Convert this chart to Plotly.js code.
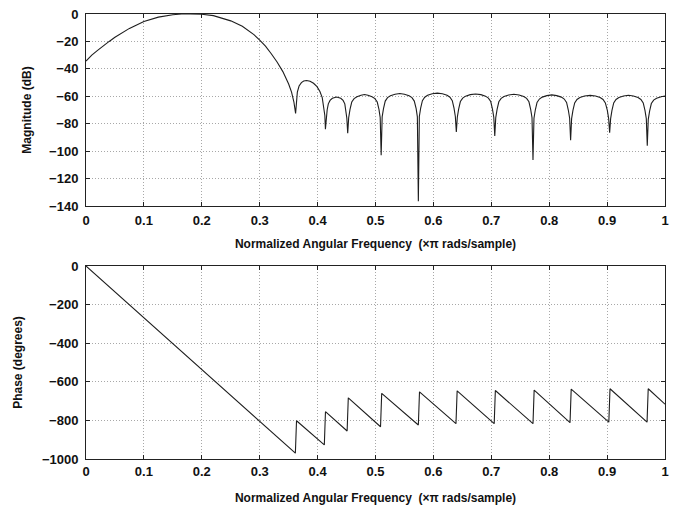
<!DOCTYPE html>
<html>
<head>
<meta charset="utf-8">
<script src="https://cdn.plot.ly/plotly-3.0.1.min.js"></script>
<style>html,body{margin:0;padding:0;background:#fff;}#chart{width:673px;height:518px;}</style>
</head>
<body>
<div id="chart"></div>
<script>
// Magnitude response (dB)
const magFreq = [0, 0.01, 0.02, 0.03, 0.04, 0.05, 0.075, 0.1, 0.125, 0.15, 0.165, 0.18, 0.2, 0.22, 0.25, 0.27, 0.29, 0.3, 0.31, 0.32, 0.33, 0.34, 0.35, 0.355, 0.359, 0.362,
  0.3635, 0.365, 0.368, 0.372, 0.376, 0.381, 0.387, 0.393, 0.399, 0.404, 0.408, 0.411, 0.4125, 0.4135,
  0.415, 0.4165, 0.4185, 0.4215, 0.4255, 0.4328, 0.44, 0.444, 0.447, 0.449, 0.4505, 0.452,
  0.4537, 0.456, 0.459, 0.463, 0.468, 0.475, 0.481, 0.487, 0.494, 0.499, 0.503, 0.506, 0.5081, 0.5098,
  0.5115, 0.5138, 0.5168, 0.5208, 0.5258, 0.5338, 0.542, 0.550, 0.558, 0.563, 0.567, 0.5702, 0.5723, 0.574,
  0.5757, 0.578, 0.581, 0.585, 0.590, 0.598, 0.6068, 0.6156, 0.6236, 0.6286, 0.6326, 0.6356, 0.6379, 0.6396,
  0.6413, 0.6436, 0.6466, 0.6506, 0.6556, 0.6636, 0.6728, 0.682, 0.690, 0.695, 0.699, 0.702, 0.7043, 0.706,
  0.7077, 0.71, 0.713, 0.717, 0.722, 0.730, 0.739, 0.748, 0.756, 0.761, 0.765, 0.768, 0.7703, 0.772,
  0.7737, 0.776, 0.779, 0.783, 0.788, 0.796, 0.8045, 0.813, 0.821, 0.826, 0.830, 0.833, 0.8353, 0.837,
  0.8387, 0.841, 0.844, 0.848, 0.853, 0.861, 0.8707, 0.880, 0.888, 0.893, 0.897, 0.9004, 0.9027, 0.9044,
  0.9061, 0.9084, 0.9114, 0.9154, 0.9204, 0.9284, 0.9369, 0.9454, 0.9534, 0.9584, 0.9624, 0.9654, 0.9677, 0.9694,
  0.9711, 0.9734, 0.9764, 0.9804, 0.9854, 0.9934, 1.0];
const magDb = [-34.3, -30, -26.5, -23, -20, -17, -10.5, -5.5, -2.3, -0.6, 0, 0, -0.2, -1.2, -5, -9, -15, -19, -23.5, -29, -35, -42, -51, -57, -64, -72.5,
  -62, -57, -52.5, -50, -48.9, -48.5, -49, -50.5, -53, -56.5, -61, -68, -74, -84,
  -76, -70, -65.5, -63, -61.5, -60.5, -61.5, -63, -65.5, -70, -76, -87,
  -75.5, -69.5, -64.2, -61.7, -60.3, -59.2, -58.7, -59.2, -60.3, -61.7, -64.2, -69.5, -75.5, -103,
  -75, -69, -63.5, -61, -59.6, -58.5, -58, -58.5, -59.6, -61, -63.5, -69, -75, -136.5,
  -74.7, -68.7, -63.2, -60.7, -59.3, -58.2, -57.7, -58.2, -59.3, -60.7, -63.2, -68.7, -74.7, -86,
  -75.3, -69.3, -63.8, -61.3, -59.9, -58.8, -58.3, -58.8, -59.9, -61.3, -63.8, -69.3, -75.3, -89,
  -75.5, -69.5, -64, -61.5, -60.1, -59, -58.5, -59, -60.1, -61.5, -64, -69.5, -75.5, -106.5,
  -76, -70, -64.5, -62, -60.6, -59.5, -59, -59.5, -60.6, -62, -64.5, -70, -76, -92,
  -76.3, -70.3, -64.8, -62.3, -60.9, -59.8, -59.3, -59.8, -60.9, -62.3, -64.8, -70.3, -76.3, -86.6,
  -76.3, -70.3, -64.8, -62.3, -60.9, -59.8, -59.3, -59.8, -60.9, -62.3, -64.8, -70.3, -76.3, -96,
  -76.8, -70.8, -65.3, -62.8, -61.4, -60.3, -59.8];

// Phase response (degrees)
const phaseFreq = [0, 0.3616, 0.3636, 0.4116, 0.4136, 0.451, 0.453, 0.5087, 0.5107, 0.574, 0.576, 0.639, 0.641, 0.705, 0.707, 0.772, 0.774, 0.836, 0.838, 0.903, 0.905, 0.969, 0.971, 1.0];
const phaseDeg = [0, -970, -802, -927, -755, -855, -683, -833, -660, -824, -652, -817, -647, -817, -645, -817, -643, -812, -638, -809, -636, -809, -636, -716];

const xTickVals = [0, 0.1, 0.2, 0.3, 0.4, 0.5, 0.6, 0.7, 0.8, 0.9, 1];
const xTickText = ['0', '0.1', '0.2', '0.3', '0.4', '0.5', '0.6', '0.7', '0.8', '0.9', '1'];
const magTicks = [0, -20, -40, -60, -80, -100, -120, -140];
const phaseTicks = [0, -200, -400, -600, -800, -1000];

const xLabel = 'Normalized Angular Frequency  (\u00d7\u03c0 rads/sample)';
const magLabel = 'Magnitude (dB)';
const phaseLabel = 'Phase (degrees)';

const lineStyle = {color: '#1e1e1e', width: 1.1};
const traces = [
  {x: magFreq, y: magDb, type: 'scatter', mode: 'lines', line: lineStyle, xaxis: 'x', yaxis: 'y', hoverinfo: 'skip'},
  {x: phaseFreq, y: phaseDeg, type: 'scatter', mode: 'lines', line: lineStyle, xaxis: 'x2', yaxis: 'y2', hoverinfo: 'skip'}
];

const tickFont = {family: 'Liberation Sans, Arial, sans-serif', size: 13, color: '#111', weight: 'bold'};
const titleFont = {family: 'Liberation Sans, Arial, sans-serif', size: 12, color: '#111', weight: 'bold'};

function xAxis(anchor, labelGap, titleGap) {
  return {
    anchor: anchor, domain: [0, 1], range: [0, 1], tickmode: 'array', tickvals: xTickVals, ticktext: xTickText,
    showline: true, mirror: 'ticks', linecolor: '#222', linewidth: 1,
    ticks: 'inside', ticklen: 4, tickcolor: '#222',
    showgrid: true, gridcolor: '#a8a8a8', griddash: '1px,2px', gridwidth: 1, zeroline: false,
    tickfont: tickFont, automargin: false, ticklabelstandoff: labelGap,
    title: {text: xLabel, font: titleFont, standoff: titleGap}
  };
}
function yAxis(anchor, domain, range, ticks, label, titleGap) {
  return {
    anchor: anchor, domain: domain, range: range, tickmode: 'array', tickvals: ticks,
    showline: true, mirror: 'ticks', linecolor: '#222', linewidth: 1,
    ticks: 'inside', ticklen: 4, tickcolor: '#222',
    showgrid: true, gridcolor: '#a8a8a8', griddash: '1px,2px', gridwidth: 1, zeroline: false,
    tickfont: tickFont, automargin: false, ticklabelstandoff: 4,
    title: {text: label, font: titleFont, standoff: titleGap}
  };
}

const layout = {
  width: 673, height: 518,
  margin: {l: 86, r: 8, t: 14, b: 59},
  paper_bgcolor: '#fff', plot_bgcolor: '#fff',
  showlegend: false,
  xaxis: xAxis('y', 2, 12),
  yaxis: yAxis('x', [0.5685, 1], [-140, 0], magTicks, magLabel, 14),
  xaxis2: xAxis('y2', 0, 16),
  yaxis2: yAxis('x2', [0, 0.4337], [-1000, 0], phaseTicks, phaseLabel, 16)
};

Plotly.newPlot('chart', traces, layout, {displayModeBar: false, staticPlot: true});
</script>
</body>
</html>
